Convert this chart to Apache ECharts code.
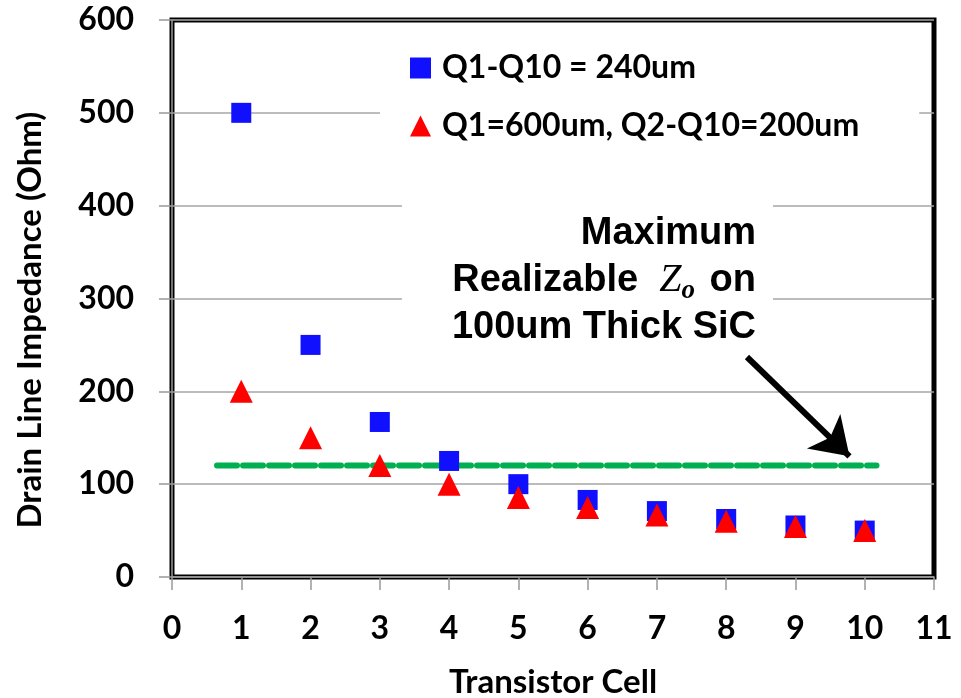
<!DOCTYPE html>
<html>
<head>
<meta charset="utf-8">
<script src="https://cdn.jsdelivr.net/npm/echarts@6/dist/echarts.min.js"></script>
<style>
  html, body { margin: 0; padding: 0; background: #fff; }
  #chart { width: 961px; height: 698px; }
</style>
</head>
<body>
<div id="chart"></div>
<script>
// data
var cells = [1, 2, 3, 4, 5, 6, 7, 8, 9, 10];
var sameWidth = [500, 250, 167, 125, 100, 83, 71, 62.5, 55.5, 50];   // Q1-Q10 = 240um
var biggerQ1 = [200, 150, 120, 100, 85.7, 75, 66.7, 60, 54.5, 50];    // Q1=600um, Q2-Q10=200um
var zoLimit = 120;                 // max realizable Zo
var zoLineX = [0.65, 10.17];       // extent of dashed green line
var arrowFrom = [8.3, 237];
var arrowTo = [9.78, 130];
var legendNames = ["Q1-Q10 = 240um", "Q1=600um, Q2-Q10=200um"];

var chart = echarts.init(document.getElementById("chart"));
var font = "Lato";

var option = {
  backgroundColor: "#fff",
  animation: false,
  grid: {
    left: 172,
    right: 27,
    top: 20,
    bottom: 121,
    show: true,
    borderColor: "#000",
    borderWidth: 5
  },
  legend: {
    orient: "vertical",
    left: 380,
    top: 38,
    padding: [14, 60, 12, 30],
    backgroundColor: "#fff",
    itemGap: 26,
    itemWidth: 21,
    itemHeight: 21,
    textStyle: {
      fontFamily: font,
      fontWeight: "bold",
      fontSize: 32,
      color: "#000",
      padding: [0, 0, 0, 6]
    },
    data: [
      { name: legendNames[0], icon: "rect" },
      { name: legendNames[1], icon: "triangle" }
    ]
  },
  xAxis: {
    type: "value",
    min: 0,
    max: 11,
    interval: 1,
    axisLine: { lineStyle: { color: "#999", width: 1.5 } },
    axisTick: { show: true, length: 13, lineStyle: { color: "#999", width: 1.5 } },
    splitLine: { show: false },
    axisLabel: {
      margin: 36,
      fontFamily: font,
      fontWeight: "bold",
      fontSize: 32,
      color: "#000"
    }
  },
  yAxis: {
    type: "value",
    min: 0,
    max: 600,
    interval: 100,
    axisLine: { show: true, lineStyle: { color: "#999", width: 1.5 } },
    axisTick: { show: true, length: 13, lineStyle: { color: "#999", width: 1.5 } },
    splitLine: { show: true, lineStyle: { color: "#a6a6a6", width: 1.5 } },
    axisLabel: {
      margin: 38,
      fontFamily: font,
      fontWeight: "bold",
      fontSize: 32,
      color: "#000"
    }
  },
  graphic: [
    {
      type: "text",
      x: 30,
      y: 320,
      rotation: Math.PI / 2,
      style: {
        text: "Drain Line Impedance (Ohm)",
        font: "bold 33px " + font,
        fill: "#000",
        align: "center",
        verticalAlign: "middle"
      }
    },
    {
      type: "text",
      x: 553,
      y: 682,
      style: {
        text: "Transistor Cell",
        font: "bold 33px " + font,
        fill: "#000",
        align: "center",
        verticalAlign: "middle"
      }
    },
    {
      type: "text",
      x: 773,
      y: 196,
      z: 10,
      style: {
        text: "Maximum\nRealizable  {z|Z}{o|o} on\n100um Thick SiC",
        font: "bold 38px 'Liberation Sans'",
        fill: "#000",
        align: "right",
        verticalAlign: "top",
        lineHeight: 47,
        backgroundColor: "#fff",
        padding: [14, 17, 2, 50],
        rich: {
          z: {
            fontFamily: "Liberation Serif",
            fontStyle: "italic",
            fontWeight: "normal",
            fontSize: 40,
            lineHeight: 47
          },
          o: {
            fontFamily: "Liberation Serif",
            fontStyle: "italic",
            fontWeight: "bold",
            fontSize: 27,
            lineHeight: 47,
            padding: [22, 4, 0, 0]
          }
        }
      }
    }
  ],
  series: [
    {
      name: legendNames[0],
      type: "scatter",
      symbol: "rect",
      symbolSize: 20,
      itemStyle: { color: "#1010ff", opacity: 1 },
      data: cells.map(function (c, i) { return [c, sameWidth[i]]; }),
      z: 3
    },
    {
      name: legendNames[1],
      type: "scatter",
      symbol: "triangle",
      symbolSize: [23, 23],
      itemStyle: { color: "#ff0000", opacity: 1 },
      data: cells.map(function (c, i) { return [c, biggerQ1[i]]; }),
      z: 4
    },
    {
      name: "Zo limit",
      type: "line",
      symbol: "none",
      silent: true,
      lineStyle: { color: "#00b050", width: 6, type: [20, 6], cap: "round" },
      data: [[zoLineX[0], zoLimit], [zoLineX[1], zoLimit]],
      z: 2,
      markLine: {
        silent: true,
        symbol: ["none", "arrow"],
        symbolSize: 36,
        label: { show: false },
        lineStyle: { color: "#000", width: 6, type: "solid", opacity: 1 },
        itemStyle: { color: "#000" },
        data: [[{ coord: arrowFrom }, { coord: arrowTo }]]
      }
    }
  ]
};

chart.setOption(option);
</script>
</body>
</html>
